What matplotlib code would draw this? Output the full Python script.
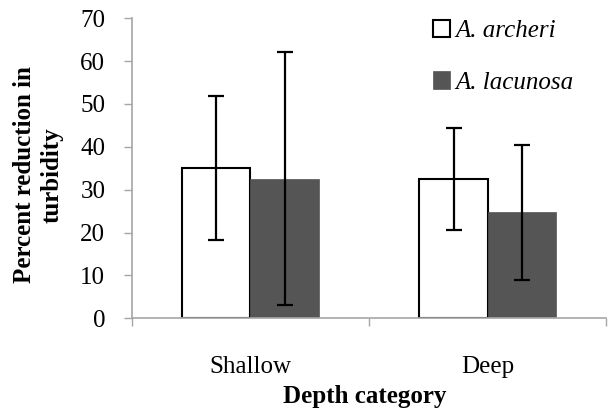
import matplotlib.pyplot as plt
import numpy as np

plt.rcParams['font.family'] = ['Liberation Serif', 'DejaVu Serif']

categories = ['Shallow', 'Deep']
archeri = [35.1, 32.6]
archeri_err = [16.8, 11.9]
lacunosa = [32.6, 24.7]
lacunosa_err = [29.6, 15.8]

fig = plt.figure(figsize=(6.09, 4.09), dpi=100)
ax = fig.add_axes([0.2163, 0.2218, 0.7793, 0.7335])

x = np.arange(len(categories))
w = 0.288
err_kw = dict(ecolor='black', elinewidth=1.6, capsize=6, capthick=1.6)
b1 = ax.bar(x - w / 2, archeri, w, yerr=archeri_err, color='white',
            edgecolor='black', linewidth=1.5, error_kw=err_kw, label='A. archeri')
b2 = ax.bar(x + w / 2, lacunosa, w, yerr=lacunosa_err, color='#555555',
            edgecolor='#555555', linewidth=0.5, error_kw=err_kw, label='A. lacunosa')

ax.set_xlim(-0.5, 1.5)
ax.set_ylim(0, 70)
ax.set_yticks(range(0, 71, 10))
ax.set_xticks(x)
ax.set_xticklabels(categories)
# category boundary ticks on the x axis
ax.set_xticks([-0.5, 0.5, 1.5], minor=True)
ax.tick_params(axis='x', which='major', length=0, pad=27, labelsize=18)
ax.tick_params(axis='x', which='minor', length=6, direction='out', color='#a6a6a6', width=1)
ax.tick_params(axis='y', length=6, direction='out', color='#a6a6a6', width=1, labelsize=18, pad=13)

for s in ['top', 'right']:
    ax.spines[s].set_visible(False)
for s in ['left', 'bottom']:
    ax.spines[s].set_color('#a6a6a6')
    ax.spines[s].set_linewidth(1.2)

ax.set_ylabel('Percent reduction in\nturbidity', fontsize=18, fontweight='bold',
              linespacing=1.25, va='center', ha='center')
ax.yaxis.set_label_coords(-0.197, 0.478)
ax.set_xlabel('Depth category', fontsize=18, fontweight='bold', va='center')
ax.xaxis.set_label_coords(0.49, -0.262)

leg = ax.legend(handles=[b1, b2], loc='upper left', bbox_to_anchor=(0.587, 1.07),
                frameon=False, prop=dict(size=18, style='italic'),
                handlelength=0.7, handleheight=0.7, handletextpad=0.2, labelspacing=1.15)

fig.savefig('out.png', dpi=100)
